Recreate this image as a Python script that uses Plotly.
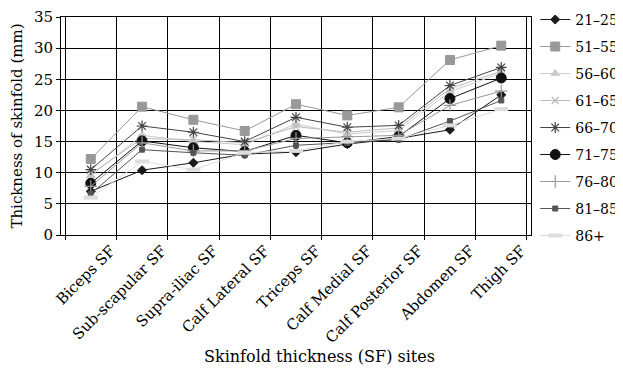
import plotly.graph_objects as go

sites = ["Biceps SF", "Sub-scapular SF", "Supra-iliac SF", "Calf Lateral SF",
         "Triceps SF", "Calf Medial SF", "Calf Posterior SF", "Abdomen SF", "Thigh SF"]

age_21_25 = [7.0, 10.4, 11.6, 13.0, 13.3, 14.6, 15.5, 16.9, 22.5]
age_51_55 = [12.2, 20.6, 18.5, 16.7, 21.0, 19.2, 20.5, 28.1, 30.4]
age_56_60 = [9.5, 16.0, 15.0, 14.5, 17.8, 16.2, 16.8, 23.0, 26.0]
age_61_65 = [9.8, 15.5, 15.3, 14.8, 17.4, 16.5, 17.2, 23.5, 26.3]
age_66_70 = [10.5, 17.5, 16.5, 15.0, 18.9, 17.3, 17.6, 24.0, 26.9]
age_71_75 = [8.3, 15.1, 14.0, 13.4, 16.0, 14.8, 15.8, 21.9, 25.2]
age_76_80 = [7.8, 14.8, 13.5, 13.5, 15.5, 15.8, 16.0, 20.8, 23.1]
age_81_85 = [6.6, 13.7, 13.2, 12.8, 14.4, 14.8, 15.3, 18.3, 21.6]
age_86_up = [6.0, 11.8, 10.5, 13.2, 13.5, 15.0, 15.5, 17.6, 20.2]

series = [
    ("21–25", age_21_25, "#1a1a1a", "diamond", 7, 1),
    ("51–55", age_51_55, "#999999", "square", 9, 1),
    ("56–60", age_56_60, "#cccccc", "triangle-up", 8, 1),
    ("61–65", age_61_65, "#bbbbbb", "x-thin-open", 7, 1.2),
    ("66–70", age_66_70, "#444444", "asterisk-open", 9, 1.2),
    ("71–75", age_71_75, "#111111", "circle", 10, 1),
    ("76–80", age_76_80, "#999999", "cross-thin-open", 9, 1.2),
    ("81–85", age_81_85, "#555555", "square", 5, 1),
    ("86+", age_86_up, "#dddddd", "line-ew-open", 10, 4),
]

fig = go.Figure()
for i, (name, vals, col, sym, sz, lw) in enumerate(series):
    fig.add_trace(go.Scatter(
        x=sites, y=vals, name=name, mode="lines+markers",
        legendgroup=f"g{i}",
        line=dict(color=col, width=1),
        marker=dict(symbol=sym, size=sz, color=col, line=dict(color=col, width=lw)),
    ))

font = "DejaVu Serif"
fig.update_layout(
    width=623, height=372,
    margin=dict(l=53, r=100, t=9, b=145, autoexpand=False),
    paper_bgcolor="white", plot_bgcolor="white",
    font=dict(family=font, size=14, color="black"),
    showlegend=True,
    legend=dict(x=1.009, y=1.06, xanchor="left", yanchor="top",
                font=dict(family=font, size=14), tracegroupgap=5.8,
                itemwidth=30, maxheight=370, bgcolor="rgba(0,0,0,0)"),
    xaxis=dict(
        type="category", tickson="boundaries", showgrid=True, gridcolor="black",
        gridwidth=1, showline=True, linecolor="black", linewidth=1, mirror=True,
        ticks="outside", ticklen=4, tickcolor="black", tickangle=-45, automargin=False,
        tickfont=dict(family=font, size=15), ticklabelshift=20,
    ),
    yaxis=dict(
        range=[0, 35], dtick=5, showgrid=True, gridcolor="black", gridwidth=1,
        showline=True, linecolor="black", linewidth=1, mirror=True, automargin=False,
        ticks="outside", ticklen=4, tickcolor="black", zeroline=False,
        ticklabeloverflow="allow",
        tickfont=dict(family=font, size=15),
        title=dict(text="Thickness of skinfold (mm)", font=dict(family=font, size=15), standoff=15),
    ),
    annotations=[dict(
        text="Skinfold thickness (SF) sites", xref="paper", yref="paper",
        x=0.551, y=-0.5596, xanchor="center", yanchor="middle", showarrow=False,
        font=dict(family=font, size=16),
    )],
)

fig.write_html("out.html")
